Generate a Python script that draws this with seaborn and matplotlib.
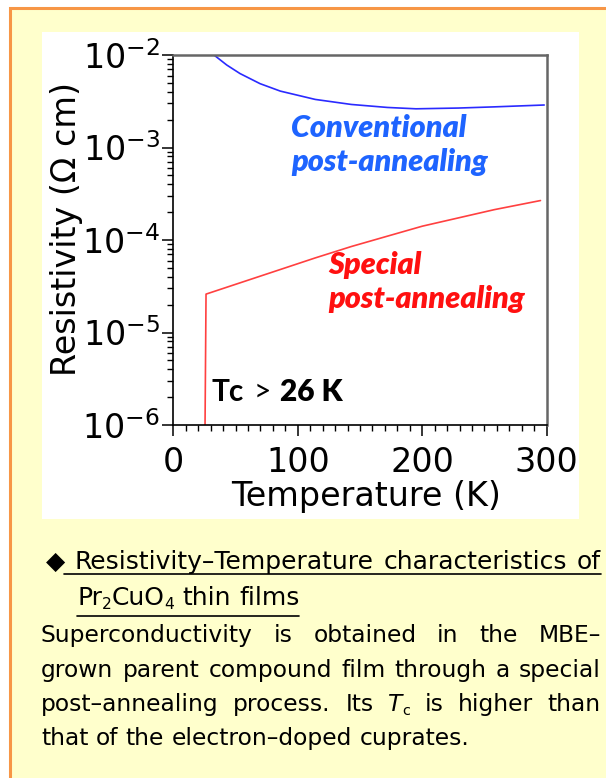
import matplotlib
matplotlib.use("Agg")
import matplotlib.pyplot as plt
import matplotlib.ticker as mticker
from matplotlib.patches import Rectangle
from matplotlib.lines import Line2D
import numpy as np
import seaborn as sns

W, H = 606, 778

# conventional post-annealing (blue curve)
conv_temp = [32.7, 42.9, 53.6, 69.7, 86, 114, 143, 172, 195, 229, 258, 298]
conv_rho = [1.0e-2, 7.8e-3, 6.3e-3, 4.9e-3, 4.07e-3, 3.31e-3, 2.92e-3, 2.71e-3,
            2.62e-3, 2.67e-3, 2.75e-3, 2.88e-3]

# special post-annealing (red curve)
spec_temp = [25.5, 26.3, 86, 114, 143, 172, 200, 258, 295]
spec_rho = [1.0e-6, 2.6e-5, 4.8e-5, 6.4e-5, 8.5e-5, 1.1e-4, 1.41e-4, 2.13e-4, 2.67e-4]

x_limits = (0, 300)
y_limits = (1e-6, 1e-2)

YELLOW = "#ffffcc"
ORANGE = "#f79646"
BLUE_LINE = "#2a2aff"
RED_LINE = "#ff4040"
BLUE_TEXT = "#1e64ff"
RED_TEXT = "#ff1010"

CAP_FONT = "DejaVu Sans"
ANNOT_FONT = ["Lato", "DejaVu Sans"]
HEAD_PT = 18
BODY_PT = 16.8


def fx(x):
    return x / W


def fy(y):
    return 1 - y / H


sns.set_theme(style="ticks")
plt.rcParams["font.family"] = ["DejaVu Sans"]
for key in ["text.color", "axes.labelcolor", "xtick.color", "ytick.color"]:
    plt.rcParams[key] = "black"

fig = plt.figure(figsize=(W / 100, H / 100), dpi=100)
fig.patch.set_facecolor("white")

# yellow box with orange border, white panel behind the chart
fig.patches.append(Rectangle((fx(9.5), fy(900)), (700 - 9.5) / W, (900 - 7.5) / H,
                             transform=fig.transFigure, facecolor=YELLOW,
                             edgecolor=ORANGE, lw=2.2, zorder=-10))
fig.patches.append(Rectangle((fx(42), fy(519)), (579 - 42) / W, (519 - 32) / H,
                             transform=fig.transFigure, facecolor="white",
                             edgecolor="none", zorder=-5))

ax = fig.add_axes([fx(173.3), fy(425), 373.4 / W, 370 / H])
sns.lineplot(x=conv_temp, y=conv_rho, ax=ax, color=BLUE_LINE, lw=1.2)
sns.lineplot(x=spec_temp, y=spec_rho, ax=ax, color=RED_LINE, lw=1.2)

ax.set_yscale("log")
ax.set_xlim(*x_limits)
ax.set_ylim(*y_limits)

ax.xaxis.set_major_locator(mticker.MultipleLocator(100))
ax.xaxis.set_minor_locator(mticker.MultipleLocator(10))
ax.yaxis.set_major_locator(mticker.LogLocator(base=10))
ax.yaxis.set_minor_locator(mticker.LogLocator(base=10, subs=np.arange(2, 10)))
ax.yaxis.set_minor_formatter(mticker.NullFormatter())
ax.yaxis.set_major_formatter(mticker.FuncFormatter(
    lambda v, p: r"$\mathregular{10^{%d}}$" % int(round(np.log10(v)))))

ax.tick_params(axis="both", which="major", direction="out", length=8, width=1.1,
               labelsize=24, color="black", labelcolor="black")
ax.tick_params(axis="both", which="minor", direction="out", length=4.5, width=1.0,
               color="black")
ax.tick_params(axis="x", which="major", pad=7)
ax.tick_params(axis="y", which="major", pad=1.5)

for side in ["top", "right"]:
    ax.spines[side].set_color("#666666")
    ax.spines[side].set_linewidth(1.8)
for side in ["left", "bottom"]:
    ax.spines[side].set_color("black")
    ax.spines[side].set_linewidth(1.2)

ax.set_xlabel("Temperature (K)", fontsize=24, color="black")
ax.set_ylabel("Resistivity (Ω cm)", fontsize=24, color="black")
ax.xaxis.set_label_coords(0.516, -0.148)
ax.yaxis.set_label_coords(-0.242, 0.531)


def data_y(px_y):
    return 10 ** (-2 - (px_y - 55) / 92.5)


ann = dict(fontsize=22, style="italic", fontweight="heavy", family=ANNOT_FONT,
           va="baseline", ha="left")
ax.text(94.6, data_y(137), "Conventional", color=BLUE_TEXT, **ann)
ax.text(94.6, data_y(171), "post-annealing", color=BLUE_TEXT, **ann)
ax.text(124.3, data_y(274), "Special", color=RED_TEXT, **ann)
ax.text(124.3, data_y(308), "post-annealing", color=RED_TEXT, **ann)

# "Tc > 26 K": lighter "Tc" and ">", heavy "26 K"
renderer = fig.canvas.get_renderer()
tc_runs = [("Tc", "bold"), (">", "normal"), ("26 K", "heavy")]
tc_gaps = [9, 9, 0]
cx = 212
for (txt, wt), gap in zip(tc_runs, tc_gaps):
    t = fig.text(fx(cx), fy(401), txt, fontsize=21.5, fontweight=wt,
                 family=ANNOT_FONT, va="baseline", ha="left", color="black")
    cx += t.get_window_extent(renderer).width + gap

# caption below the chart


def draw_word(runs, x, y, size):
    objs = []
    cx = x
    for txt, kind in runs:
        fs, dy, style = size, 0, "normal"
        if kind == "sub":
            fs, dy = size * 0.62, 4
        elif kind == "it":
            style = "italic"
        t = fig.text(fx(cx), fy(y + dy), txt, fontsize=fs, style=style,
                     family=CAP_FONT, va="baseline", ha="left", color="black")
        cx += t.get_window_extent(renderer).width
        objs.append(t)
    return objs, cx


def draw_line(words, left, right, y, size, justify=True):
    placed = [draw_word(w, 0, y, size) for w in words]
    widths = [end for _, end in placed]
    if justify and len(words) > 1:
        gap = (right - left - sum(widths)) / (len(words) - 1)
    else:
        gap = size * 100 / 72 * 0.318
    x = left
    for (objs, _), w in zip(placed, widths):
        cx = x
        for t in objs:
            _, ty = t.get_position()
            t.set_position((fx(cx), ty))
            cx += t.get_window_extent(renderer).width
        x += w + gap
    return x - gap


def plain(text):
    return [[(w, "n")] for w in text.split(" ")]


head = [[("◆", "n")]] + plain("Resistivity–Temperature characteristics of")
draw_line(head, 46, 601, 569, HEAD_PT)
fig.lines.append(Line2D([fx(64), fx(601)], [fy(574), fy(574)], color="black",
                        lw=1.2, transform=fig.transFigure))

formula = [[("Pr", "n"), ("2", "sub"), ("CuO", "n"), ("4", "sub")],
           [("thin", "n")], [("films", "n")]]
end2 = draw_line(formula, 77, 0, 605, HEAD_PT, justify=False)
fig.lines.append(Line2D([fx(77), fx(end2)], [fy(616), fy(616)], color="black",
                        lw=1.2, transform=fig.transFigure))

draw_line(plain("Superconductivity is obtained in the MBE–"), 41, 601, 642, BODY_PT)
draw_line(plain("grown parent compound film through a special"), 41, 601, 677, BODY_PT)
line5 = plain("post–annealing process. Its") + [[("T", "it"), ("c", "sub")]] \
    + plain("is higher than")
draw_line(line5, 41, 601, 711, BODY_PT)
draw_line(plain("that of the electron–doped cuprates."), 41, 0, 745, BODY_PT,
          justify=False)

fig.savefig("out.png", dpi=100, facecolor=fig.get_facecolor())
